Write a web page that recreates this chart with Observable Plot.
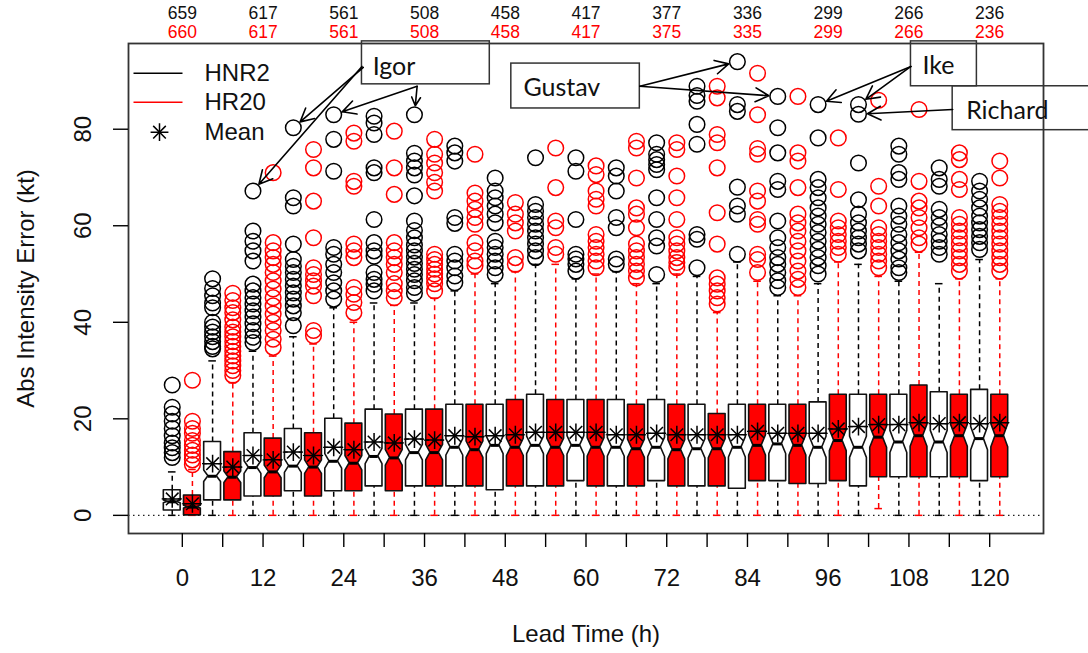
<!DOCTYPE html>
<html>
<head>
<meta charset="utf-8">
<script src="https://cdn.jsdelivr.net/npm/d3@7"></script>
<script src="https://cdn.jsdelivr.net/npm/@observablehq/plot@0.6"></script>
<style>
  html, body { margin: 0; padding: 0; background: #fff; }
  #chart { width: 1088px; height: 653px; }
</style>
</head>
<body>
<div id="chart"></div>
<script>
// ---------- data ----------
const leads = [0, 6, 12, 18, 24, 30, 36, 42, 48, 54, 60, 66, 72, 78, 84, 90, 96, 102, 108, 114, 120];
const xTicks = [0, 6, 12, 18, 24, 30, 36, 42, 48, 54, 60, 66, 72, 78, 84, 90, 96, 102, 108, 114, 120];
const xLabels = [0, 12, 24, 36, 48, 60, 72, 84, 96, 108, 120];
const yTicks = [0, 20, 40, 60, 80];

const countLeads = [0, 12, 24, 36, 48, 60, 72, 84, 96, 108, 120];
const countsHNR2 = [659, 617, 561, 508, 458, 417, 377, 336, 299, 266, 236];
const countsHR20 = [660, 617, 561, 508, 458, 417, 375, 335, 299, 266, 236];

const legendNames = ["HNR2", "HR20", "Mean"];

const notchHalf = [0.3, 1.2, 1.3, 1.4, 1.5, 1.6, 1.6, 1.7, 1.8, 1.8, 1.9, 1.9, 2.0, 2.0, 2.1, 2.1, 2.2, 2.2, 2.3, 2.3, 2.4];

const hnr2Q1   = [1.0, 3.1, 3.9, 5.0, 5.0, 6.0, 6.0, 6.0, 5.2, 6.0, 7.1, 6.0, 7.1, 6.0, 5.5, 7.1, 6.5, 6.0, 7.9, 7.9, 7.1];
const hnr2Med  = [2.8, 8.1, 9.9, 10.2, 11.2, 12.2, 13.0, 14.1, 14.5, 14.5, 14.5, 14.1, 14.1, 13.8, 14.1, 14.8, 14.1, 14.1, 15.2, 15.2, 15.9];
const hnr2Q3   = [5.2, 15.2, 17.0, 17.9, 20.0, 21.9, 21.9, 22.9, 22.9, 25.0, 23.9, 23.9, 23.9, 22.9, 22.9, 22.9, 23.4, 25.0, 25.0, 25.5, 26.0];
const hnr2Mean = [3.4, 10.7, 12.4, 13.1, 14.1, 15.2, 15.8, 16.5, 16.5, 17.2, 17.2, 16.7, 17.0, 16.7, 16.7, 17.0, 17.0, 18.4, 18.8, 19.0, 19.0];
const hnr2Lo   = [0, 0, 0, 0, 0, 0, 0, 0, 0, 0, 0, 0, 0, 0, 0, 0, 0, 0, 0, 0, 0];
const hnr2Hi   = [9, 32, 34, 37, 43, 44, 44, 46.5, 48, 52, 49, 50.5, 48, 49.5, 52.5, 45.5, 48, 52, 48.5, 48, 53];
const hnr2Out = [
  [27, 22.4, 21, 19.5, 18, 16.5, 15, 14, 13, 12],
  [49, 47, 45.5, 44, 43, 40, 39, 38, 37, 36, 35, 34.5],
  [67.2, 58.9, 56.8, 54.8, 52.7, 47.9, 46.5, 45.1, 43.8, 42.4, 41.1, 39.7, 38.3, 36.9, 35.8],
  [80.3, 65.8, 64.1, 56.2, 53, 51.6, 50.3, 48.9, 47.5, 46.1, 44.8, 43.4, 42, 39.3],
  [83, 77.9, 71.3, 55.5, 54.1, 52, 50.3, 48.2, 46.5, 44.8],
  [82.7, 81.3, 78.9, 72, 71, 61.3, 56.5, 54.8, 53.7, 50.3, 48.9, 47.9, 46.5],
  [83, 75, 73.4, 72, 70.5, 66.2, 61, 59, 57.5, 56, 54.8, 53.5, 52.2, 51, 49.9, 48.6, 47.2, 46],
  [76.5, 75.1, 73.4, 61.7, 60.5, 54.1, 52.7, 51.3, 49.6, 48.2],
  [69.9, 67.2, 65.8, 64.1, 62.4, 60.6, 56.8, 55.5, 54.1, 52.7, 51.3, 49.9],
  [74.1, 64.4, 63, 61.7, 60.3, 58.9, 57.5, 56.2, 54.8, 53.4],
  [74.1, 71.3, 61.3, 54.1, 53.1, 52, 50.6],
  [72, 70.3, 67.2, 61.7, 59.6, 53.1, 52],
  [77.2, 74.8, 73.7, 72.7, 71.6, 65.8, 61.3, 57.5, 55.8, 49.9],
  [88.9, 87, 85.8, 81, 76.9, 58.2, 57.2, 51.3],
  [94, 85.1, 83.7, 68, 64.1, 62.4, 54.1],
  [86.8, 80.3, 75.1, 69.2, 67.5, 61, 57.5, 55.5, 53.4, 52, 50.3, 48.6, 47.2],
  [85.1, 78.2, 69.6, 67.9, 65.8, 63.7, 62, 60.3, 58.6, 56.8, 55.1, 53.4, 51.7, 50],
  [85.1, 83.1, 73, 65.4, 62.4, 60.6, 58.9, 57.5, 56.2, 54.8],
  [76.5, 74.8, 71, 69.6, 64.1, 62, 60.3, 58.2, 56.5, 54.8, 53.1, 51.3, 50.3],
  [72, 69.6, 68.2, 63.4, 61.7, 60, 58.2, 56.8, 55.5, 54.1],
  [69.2, 67.2, 65.5, 63.7, 62, 60.6, 59.2, 57.8, 56.5, 55.1]
];

const hr20Q1   = [0.0, 3.1, 3.9, 3.9, 5.0, 5.0, 6.0, 6.0, 6.0, 6.0, 6.0, 6.0, 6.0, 6.0, 7.1, 6.5, 7.1, 7.9, 7.9, 7.9, 7.9];
const hr20Med  = [1.7, 7.9, 9.0, 10.0, 10.8, 11.9, 13.0, 13.6, 14.1, 14.1, 14.1, 13.8, 13.6, 13.8, 14.5, 14.5, 15.5, 16.2, 16.5, 16.5, 16.5];
const hr20Q3   = [4.1, 13.1, 15.9, 17.0, 19.0, 20.9, 21.9, 22.9, 23.9, 23.9, 23.9, 22.9, 22.9, 21.0, 22.9, 22.9, 25.0, 25.0, 26.9, 25.0, 25.0];
const hr20Mean = [2.4, 10.0, 11.5, 12.4, 13.6, 15.0, 15.6, 16.3, 16.7, 17.2, 17.2, 16.7, 16.7, 16.7, 17.4, 17.0, 17.9, 18.8, 19.2, 19.2, 19.2];
const hr20Lo   = [0, 0, 0, 0, 0, 0, 0, 0, 0, 0, 0, 0, 0, 0, 0, 0, 0, 1.4, 0, 0, 0];
const hr20Hi   = [9.5, 27.5, 33, 35.5, 40, 43.5, 45, 50, 50.5, 52, 50, 48, 50, 42, 48.5, 45.5, 52.5, 49.5, 54.5, 49, 49];
const hr20Out = [
  [28, 19.5, 18, 17, 15.5, 14.5, 13.5, 12.5, 11.5, 10.5],
  [46, 44.5, 43, 42, 40.5, 39, 38, 37, 36, 35, 34, 33, 32, 31, 30, 29],
  [71, 56.5, 54.8, 53.4, 52, 50.3, 48.6, 46.9, 45.1, 43.4, 41.7, 40, 38.3, 36.5, 34.8],
  [75.8, 72, 65.1, 57.5, 51.3, 49.9, 48.6, 47.5, 45.5, 38.3, 37.2],
  [79.2, 77.5, 69.2, 68.2, 56.2, 54.8, 53.4, 47.2, 45.8, 44.1, 42],
  [79.6, 72, 66.5, 56.5, 54.8, 53.4, 52, 50.3, 48, 46.5, 45.1],
  [77.9, 74.8, 73, 71, 69, 67.2, 54.1, 53, 52, 51, 50, 49, 48, 46.5],
  [74.8, 66.8, 65.1, 63.4, 61.7, 60.3, 56.5, 54.8, 52.7, 51.7],
  [64.8, 62.4, 60.6, 58.9, 53.4, 52],
  [76.1, 67.9, 61, 59.6, 55.5, 54.1],
  [72.4, 70.6, 67.2, 65.5, 64.1, 58.2, 56.8, 55.5, 54.1, 52.7, 51.3],
  [77.5, 76.1, 69.9, 63.7, 62.4, 59.6, 56.2, 54.8, 53.4, 52, 50.6, 49.2],
  [77.2, 75.8, 70.3, 65.8, 61.3, 57.5, 56.2, 54.8, 53.4, 52.4, 51.3],
  [88.9, 86.5, 78.9, 77.2, 72, 62.7, 56.2, 49.2, 47.9, 46.5, 45.1, 43.8],
  [91.6, 83, 76, 74.8, 67.2, 65.1, 61.3, 60.3, 54.1, 53, 50.3],
  [86.8, 75.1, 73.4, 67.9, 62.4, 60.6, 58.9, 56.8, 54.8, 52.7, 50.6, 48.9, 47.2],
  [78.2, 67.5, 61, 59.6, 58.2, 56.8, 55.5, 54.1],
  [86, 68.2, 64.1, 59.6, 58.2, 56.8, 55.5, 54.1, 52.7, 51.3],
  [84.1, 69.2, 65.1, 63.7, 61.7, 59.6, 57.5, 56.2],
  [75.1, 73.7, 69.6, 67.5, 61.7, 60.3, 58.9, 57.5, 56.2, 54.8, 53.4, 52, 50.6],
  [73.4, 69.9, 64.4, 63, 61.7, 60.3, 58.9, 57.5, 56.2, 54.8, 53.4, 52, 50.6]
];

// storm annotations (data coordinates)
const stormNames  = ["Igor", "Gustav", "Ike", "Richard"];
const stormBoxX1  = [26.7, 48.9, 108.3, 114.5];
const stormBoxX2  = [45.7, 68.0, 118.1, 140];
const stormBoxY1  = [89.3, 84.3, 88.9, 79.8];
const stormBoxY2  = [98.2, 93.6, 98.2, 88.9];
const stormTextX  = [28.3, 50.7, 110.0, 116.5];
const stormTextY  = [92.8, 88.5, 93.0, 83.7];

// arrows: from a point on the label box to an HNR2 outlier (lead, value)
const arrowFromX = [26.7, 26.9, 34.9, 34.9, 68.0, 68.0, 108.3, 108.3, 114.5];
const arrowFromY = [93.0, 92.8, 88.9, 88.9, 88.9, 88.9, 93.0, 93.0, 84.1];
const arrowLead  = [12, 18, 24, 36, 84, 90, 96, 102, 102];
const arrowValue = [67.2, 80.3, 83, 83, 94, 86.8, 85.1, 85.1, 83.1];

// ---------- build tables ----------
const OFF = 1.5, HW = 1.25;
const models = [
  {name: "HNR2", off: -OFF, color: "black", fill: "white", q1: hnr2Q1, med: hnr2Med, q3: hnr2Q3, mean: hnr2Mean, lo: hnr2Lo, hi: hnr2Hi, out: hnr2Out},
  {name: "HR20", off: OFF, color: "red", fill: "red", q1: hr20Q1, med: hr20Med, q3: hr20Q3, mean: hr20Mean, lo: hr20Lo, hi: hr20Hi, out: hr20Out}
];
const boxes = [];
models.forEach(m => leads.forEach((t, i) => boxes.push({
  model: m.name, lead: t, x: t + m.off, q1: m.q1[i], med: m.med[i], q3: m.q3[i],
  mean: m.mean[i], lo: m.lo[i], hi: m.hi[i], notch: notchHalf[i], out: m.out[i]
})));
const poly = boxes.flatMap((b, k) =>
  [[b.q1, 1], [b.med - b.notch, 1], [b.med, 0.5], [b.med + b.notch, 1], [b.q3, 1]]
    .map(([y, f]) => ({id: k, model: b.model, y, x1: b.x - HW * f, x2: b.x + HW * f})));
const outliers = boxes.flatMap(b => b.out.map(v => ({model: b.model, x: b.x, y: v})));
const storms = stormNames.map((n, i) => ({name: n, x1: stormBoxX1[i], x2: stormBoxX2[i], y1: stormBoxY1[i], y2: stormBoxY2[i], tx: stormTextX[i], ty: stormTextY[i]}));
const arrows = arrowLead.map((t, i) => ({x1: arrowFromX[i], y1: arrowFromY[i], x2: t - OFF, y2: arrowValue[i]}));
const counts = countLeads.map((t, i) => ({t, a: countsHNR2[i], b: countsHR20[i]}));

const FONT = "Liberation Sans, Arial, Helvetica, sans-serif";
const lineSym = {draw(ctx) { ctx.moveTo(-24.5, 0); ctx.lineTo(24.5, 0); }};

const modelMarks = models.flatMap(m => {
  const bm = boxes.filter(d => d.model === m.name);
  return [
    Plot.ruleX(bm, {x: "x", y1: "q3", y2: "hi", stroke: m.color, strokeWidth: 1.5, strokeDasharray: "5,4"}),
    Plot.ruleX(bm, {x: "x", y1: "lo", y2: "q1", stroke: m.color, strokeWidth: 1.5, strokeDasharray: "5,4"}),
    Plot.ruleY(bm, {y: "hi", x1: d => d.x - HW * 0.45, x2: d => d.x + HW * 0.45, stroke: m.color, strokeWidth: 1.5}),
    Plot.ruleY(bm, {y: "lo", x1: d => d.x - HW * 0.45, x2: d => d.x + HW * 0.45, stroke: m.color, strokeWidth: 1.5}),
    Plot.areaX(poly.filter(d => d.model === m.name), {y: "y", x1: "x1", x2: "x2", z: "id", fill: m.fill, stroke: "#111", strokeWidth: 1.6, curve: "linear"}),
    Plot.ruleY(bm, {y: "med", x1: d => d.x - HW * 0.5, x2: d => d.x + HW * 0.5, stroke: "black", strokeWidth: 3}),
    Plot.dot(outliers.filter(d => d.model === m.name), {x: "x", y: "y", r: 7.8, stroke: m.color, strokeWidth: 1.5, fill: "none"})
  ];
});

const chart = Plot.plot({
  width: 1088,
  height: 653,
  marginLeft: 128,
  marginRight: 45,
  marginTop: 43,
  marginBottom: 120,
  style: {fontFamily: FONT, background: "white", color: "black"},
  x: {domain: [-8, 128], label: null},
  y: {domain: [-3.76, 97.76], label: null},
  marks: [
    Plot.ruleY([0], {stroke: "#222", strokeWidth: 1.2, strokeDasharray: "1.5,3.5"}),
    ...modelMarks,
    Plot.ruleY(boxes, {y: "mean", x1: d => d.x - 1.5, x2: d => d.x + 1.5, stroke: "black", strokeWidth: 1.2, strokeDasharray: "5,3"}),
    Plot.dot(boxes, {x: "x", y: "mean", symbol: "plus", r: 5.8, stroke: "black", strokeWidth: 1.5}),
    Plot.dot(boxes, {x: "x", y: "mean", symbol: "times", r: 5.8, stroke: "black", strokeWidth: 1.5}),
    // axes
    Plot.frame({stroke: "#333", strokeWidth: 1.8}),
    Plot.axisX({ticks: xTicks, tickSize: 14, tickFormat: () => "", label: null, strokeWidth: 1.4}),
    Plot.axisY({ticks: yTicks, tickSize: 15, tickFormat: () => "", label: null, strokeWidth: 1.4}),
    Plot.text(xLabels, {x: d => d, text: d => String(d), frameAnchor: "bottom", dy: 45, lineAnchor: "middle", fontSize: 24, fill: "#111"}),
    Plot.text(yTicks, {y: d => d, text: d => String(d), frameAnchor: "left", dx: -37.5, rotate: -90, textAnchor: "middle", lineAnchor: "bottom", fontSize: 24, fill: "#111"}),
    Plot.text(["Lead Time (h)"], {frameAnchor: "bottom", dy: 100.5, text: d => d, lineAnchor: "middle", fontSize: 24, fill: "#111"}),
    Plot.text(["Abs Intensity Error (kt)"], {frameAnchor: "left", dx: -95, rotate: -90, text: d => d, textAnchor: "middle", lineAnchor: "bottom", fontSize: 24, fill: "#111"}),
    // counts
    Plot.text(counts, {x: "t", text: d => String(d.a), frameAnchor: "top", dy: -30.5, lineAnchor: "middle", fontSize: 17.5, fill: "#111"}),
    Plot.text(counts, {x: "t", text: d => String(d.b), frameAnchor: "top", dy: -11, lineAnchor: "middle", fontSize: 17.5, fill: "red"}),
    // legend
    Plot.dot([0], {frameAnchor: "top-left", dx: 29.5, dy: 29.7, symbol: lineSym, stroke: "black", strokeWidth: 1.5, fill: "none"}),
    Plot.dot([0], {frameAnchor: "top-left", dx: 29.5, dy: 58.7, symbol: lineSym, stroke: "red", strokeWidth: 1.5, fill: "none"}),
    Plot.dot([0], {frameAnchor: "top-left", dx: 31, dy: 88.7, symbol: "plus", r: 5.8, stroke: "black", strokeWidth: 1.5}),
    Plot.dot([0], {frameAnchor: "top-left", dx: 31, dy: 88.7, symbol: "times", r: 5.8, stroke: "black", strokeWidth: 1.5}),
    Plot.text([legendNames[0]], {frameAnchor: "top-left", dx: 76, dy: 29.7, text: d => d, textAnchor: "start", lineAnchor: "middle", fontSize: 24, fill: "#111"}),
    Plot.text([legendNames[1]], {frameAnchor: "top-left", dx: 76, dy: 58.7, text: d => d, textAnchor: "start", lineAnchor: "middle", fontSize: 24, fill: "#111"}),
    Plot.text([legendNames[2]], {frameAnchor: "top-left", dx: 76, dy: 88.7, text: d => d, textAnchor: "start", lineAnchor: "middle", fontSize: 24, fill: "#111"}),
    // storm annotations
    Plot.rect(storms, {x1: "x1", x2: "x2", y1: "y1", y2: "y2", fill: "none", stroke: "#333", strokeWidth: 1.5}),
    Plot.text(storms, {x: "tx", y: "ty", text: "name", textAnchor: "start", lineAnchor: "middle", fontFamily: "Lato, Open Sans, sans-serif", fontSize: 25, fill: "#111"}),
    Plot.arrow(arrows, {x1: "x1", y1: "y1", x2: "x2", y2: "y2", insetEnd: 9, headLength: 14, headAngle: 55, stroke: "black", strokeWidth: 1.6})
  ]
});
document.getElementById("chart").appendChild(chart);
</script>
</body>
</html>
